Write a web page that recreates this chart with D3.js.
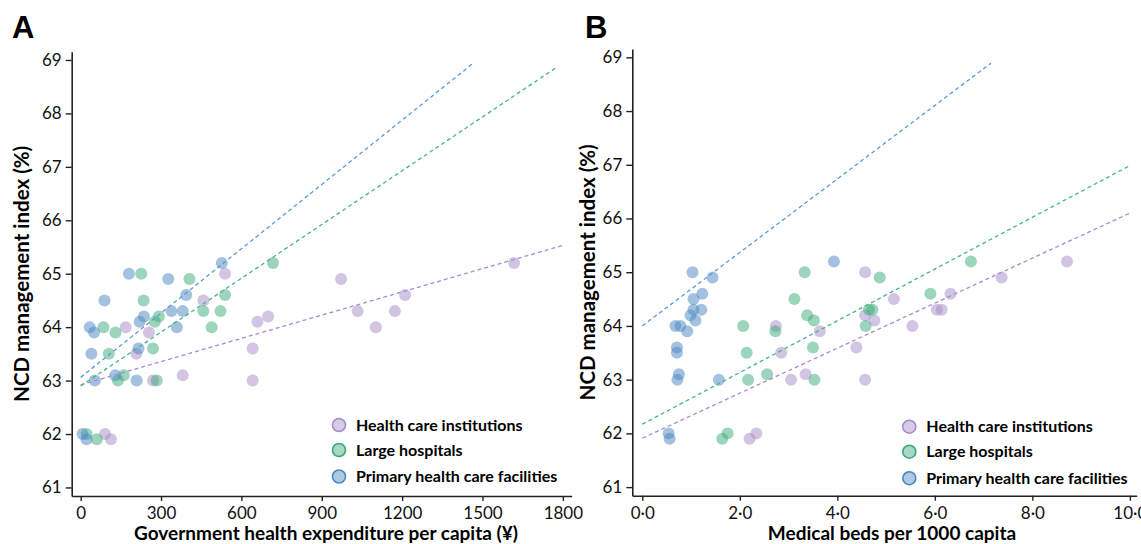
<!DOCTYPE html>
<meta charset="utf-8">
<script src="https://d3js.org/d3.v7.min.js"></script>
<style>
  body { margin: 0; background: #fff; }
  svg { display: block; font-family: Lato, "Open Sans", sans-serif; }
</style>
<div id="chart"></div>
<script>
// series, same order everywhere
const seriesNames = ["Health care institutions", "Large hospitals", "Primary health care facilities"];

// NCD management index (%), one value per region (shared by all series)
const ncdIndex = [65.2, 65.0, 64.9, 64.6, 64.5, 64.3, 64.3, 64.2, 64.1, 64.0, 64.0, 63.9, 63.6, 63.5, 63.1, 63.0, 63.0, 62.0, 61.9];

// panel A: government health expenditure per capita (¥)
const expHealthInst = [1618, 539, 972, 1211, 458, 1034, 1173, 700, 660, 168, 1102, 255, 642, 208, 381, 642, 270, 91, 113];
const expLargeHosp  = [718, 226, 406, 539, 235, 458, 522, 292, 277, 85, 489, 130, 270, 105, 161, 139, 284, 22, 60];
const expPrimary    = [527, 180, 327, 394, 89, 339, 381, 236, 220, 34, 359, 50, 216, 40, 129, 53, 209, 7, 22];

// panel B: medical beds per 1000 capita
const bedsHealthInst = [8.71, 4.57, 7.37, 6.32, 5.16, 6.04, 6.14, 4.57, 4.76, 2.74, 5.54, 3.64, 4.39, 2.85, 3.35, 3.05, 4.57, 2.34, 2.20];
const bedsLargeHosp  = [6.74, 3.33, 4.87, 5.91, 3.12, 4.65, 4.72, 3.38, 3.52, 2.07, 4.58, 2.73, 3.50, 2.14, 2.56, 2.17, 3.53, 1.75, 1.64];
const bedsPrimary    = [3.93, 1.03, 1.44, 1.23, 1.05, 1.05, 1.21, 0.99, 1.09, 0.68, 0.78, 0.92, 0.71, 0.71, 0.75, 0.72, 1.57, 0.54, 0.56];

// fitted lines: [intercept, slope, last x]
const fitExp  = [[62.92, 0.00145, 1800], [62.90, 0.003356, 1779], [63.06, 0.004012, 1463]];
const fitBeds = [[61.91, 0.419, 10], [62.17, 0.4815, 9.97], [64.0, 0.684, 7.15]];

// tick labels
const expTicks = [0, 300, 600, 900, 1200, 1500, 1800];
const bedTicks = [0, 2, 4, 6, 8, 10];
const indexTicks = [61, 62, 63, 64, 65, 66, 67, 68, 69];

const fillColors = ["#a58cc8", "#3aa97a", "#4a86c0"];
const lineColors = ["#a68bd1", "#45b58a", "#5b9ad6"];

const svg = d3.select("#chart")
    .append("svg")
    .attr("width", 1141)
    .attr("height", 544);

function drawPanel(p) {
    const x = d3.scaleLinear().domain(p.xDomain).range([p.left, p.right]);
    const y = d3.scaleLinear().domain([60.84, 69.155]).range([p.bottom, p.top]);

    // y axis
    const yAxis = svg.append("g")
        .attr("transform", `translate(${p.left},0)`)
        .call(d3.axisLeft(y).tickValues(indexTicks).tickSize(6).tickSizeOuter(0).tickPadding(4));
    // x axis
    const xAxis = svg.append("g")
        .attr("transform", `translate(0,${p.bottom})`)
        .call(d3.axisBottom(x).tickValues(p.xTicks).tickFormat(p.xFormat).tickSize(5).tickSizeOuter(0).tickPadding(6));

    [yAxis, xAxis].forEach(a => {
        a.select(".domain").attr("stroke", "#222").attr("stroke-width", 1.6);
        a.selectAll(".tick line").attr("stroke", "#222").attr("stroke-width", 1.4);
        a.selectAll(".tick text").attr("fill", "#111").style("font-size", "17px").style("font-family", "Lato");
    });

    // points
    p.series.forEach((xs, i) => {
        svg.append("g")
            .selectAll("circle")
            .data(xs.map((v, j) => ({ x: v, y: ncdIndex[j] })))
            .join("circle")
            .attr("cx", d => x(d.x))
            .attr("cy", d => y(d.y))
            .attr("r", 6)
            .attr("fill", fillColors[i])
            .attr("fill-opacity", 0.5);
    });

    // fitted dashed lines
    p.fits.forEach((f, i) => {
        svg.append("line")
            .attr("x1", x(0)).attr("y1", y(f[0]))
            .attr("x2", x(f[2])).attr("y2", y(f[0] + f[1] * f[2]))
            .attr("stroke", lineColors[i])
            .attr("stroke-width", 1.3)
            .attr("stroke-dasharray", "4,3");
    });

    // axis titles
    svg.append("text")
        .attr("transform", `translate(${p.yTitleX},${(p.top + p.bottom) / 2}) rotate(-90)`)
        .attr("text-anchor", "middle")
        .style("font-size", "20.5px").style("font-weight", "bold")
        .text("NCD management index (%)");
    svg.append("text")
        .attr("x", p.xTitleX).attr("y", 540)
        .attr("text-anchor", "middle")
        .style("font-size", "19px").style("font-weight", "bold")
        .text(p.xTitle);

    // panel letter
    svg.append("text")
        .attr("x", p.letterX).attr("y", 38)
        .style("font-family", "'Liberation Sans', Arial, sans-serif")
        .style("font-size", "31px").style("font-weight", "bold")
        .text(p.letter);

    // legend
    const legend = svg.append("g")
        .attr("transform", `translate(${p.legendX},${p.legendY})`);
    seriesNames.forEach((label, i) => {
        const row = legend.append("g")
            .attr("transform", `translate(0,${[0, 25, 51.5][i]})`);
        row.append("circle")
            .attr("r", 6.5)
            .attr("fill", d3.interpolateRgb(fillColors[i], "#fff")(0.55))
            .attr("stroke", fillColors[i])
            .attr("stroke-width", 1.6);
        row.append("text")
            .attr("x", 17)
            .attr("y", 5.5)
            .style("font-size", "16px").style("font-weight", "bold")
            .text(label);
    });
}

drawPanel({
    letter: "A", letterX: 12,
    left: 71.7, right: 571.7, top: 51.7, bottom: 496,
    xDomain: [-33.5, 1833], xTicks: expTicks, xFormat: d3.format("d"),
    series: [expHealthInst, expLargeHosp, expPrimary], fits: fitExp,
    yTitleX: 29, xTitleX: 326, xTitle: "Government health expenditure per capita (¥)",
    legendX: 339, legendY: 425
});

drawPanel({
    letter: "B", letterX: 585,
    left: 632.3, right: 1136.7, top: 49, bottom: 495.7,
    xDomain: [-0.205, 10.14], xTicks: bedTicks, xFormat: d => d3.format(".1f")(d).replace(".", "\u00b7"),
    series: [bedsHealthInst, bedsLargeHosp, bedsPrimary], fits: fitBeds,
    yTitleX: 595, xTitleX: 892, xTitle: "Medical beds per 1000 capita",
    legendX: 909.3, legendY: 426.7
});
</script>
